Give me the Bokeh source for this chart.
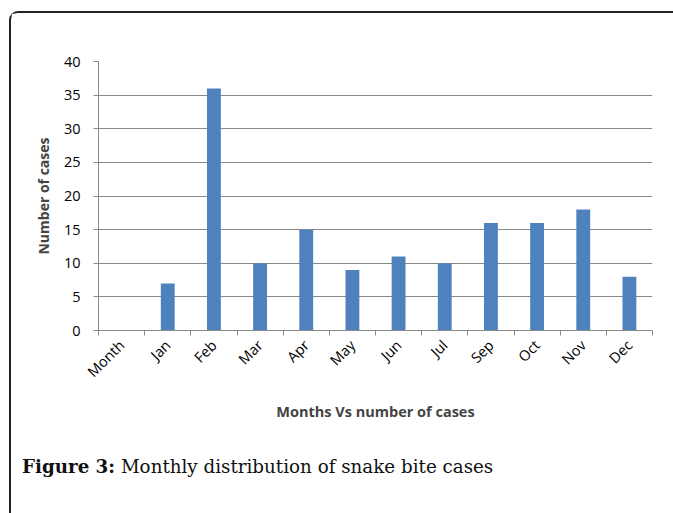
import math
from bokeh.plotting import figure
from bokeh.models import FixedTicker, Range1d, Div
from bokeh.layouts import column
from bokeh.embed import file_html
from bokeh.resources import INLINE

months = ["Month", "Jan", "Feb", "Mar", "Apr", "May", "Jun", "Jul", "Sep", "Oct", "Nov", "Dec"]
cases = [0, 7, 36, 10, 15, 9, 11, 10, 16, 16, 18, 8]
y_ticks = [0, 5, 10, 15, 20, 25, 30, 35, 40]
caption_label = "Figure 3:"
caption_text = "Monthly distribution of snake bite cases"

x_pos = [i + 0.5 for i in range(len(months))]
bounds = list(range(len(months) + 1))

OX, OY = 11, 13  # offset of content inside page due to bordered box
FIG_W, FIG_H = 662, 442

p = figure(width=FIG_W, height=FIG_H, output_backend="svg", toolbar_location=None,
           x_range=Range1d(0, len(months)), y_range=Range1d(0, 40),
           min_border_left=98 - OX, min_border_right=FIG_W - (652 - OX), min_border_top=61 - OY,
           min_border_bottom=FIG_H - (330 - OY))
p.outline_line_color = None
p.background_fill_color = "white"
p.border_fill_color = "white"

p.vbar(x=x_pos, top=cases, width=0.3, fill_color="#4F81BD", line_color=None)

gray = "#888888"
font = "Open Sans"

# y axis
p.yaxis.ticker = FixedTicker(ticks=y_ticks)
p.yaxis.axis_line_color = gray
p.yaxis.major_tick_line_color = gray
p.yaxis.major_tick_out = 5
p.yaxis.major_tick_in = 0
p.yaxis.minor_tick_line_color = None
p.yaxis.major_label_text_font = font
p.yaxis.major_label_text_font_size = "14.5px"
p.yaxis.major_label_text_color = "black"
p.yaxis.major_label_standoff = 13
p.yaxis.axis_label = "Number of cases"
p.yaxis.axis_label_text_font = font
p.yaxis.axis_label_text_font_style = "bold"
p.yaxis.axis_label_text_font_size = "14px"
p.yaxis.axis_label_standoff = 8

# x axis
p.xaxis.ticker = FixedTicker(ticks=x_pos, minor_ticks=bounds)
p.xaxis.major_label_overrides = {x: m for x, m in zip(x_pos, months)}
p.xaxis.axis_line_color = gray
p.xaxis.major_tick_line_color = None
p.xaxis.minor_tick_line_color = gray
p.xaxis.minor_tick_out = 5
p.xaxis.minor_tick_in = 0
p.xaxis.major_label_orientation = math.pi / 4
p.xaxis.major_label_text_font = font
p.xaxis.major_label_text_font_size = "14.5px"
p.xaxis.major_label_text_color = "black"
p.xaxis.major_label_standoff = 6
p.xaxis.axis_label = "Months Vs number of cases"
p.xaxis.axis_label_text_font = font
p.xaxis.axis_label_text_font_style = "bold"
p.xaxis.axis_label_text_font_size = "14.5px"
p.xaxis.axis_label_standoff = 11

p.xgrid.grid_line_color = None
p.ygrid.ticker = FixedTicker(ticks=y_ticks)
p.ygrid.grid_line_color = gray
p.ygrid.grid_line_width = 1

cap = Div(text=f"<b>{caption_label}</b> {caption_text}", width=FIG_W, height=513 - OY - FIG_H,
          styles={"font-family": "'DejaVu Serif', serif", "font-size": "18.3px", "color": "#111111",
                  "padding-left": f"{22 - OX}px", "padding-top": "1px", "line-height": "1.2", "margin": "0"})

layout = column(p, cap, spacing=0,
                styles={"margin-left": "9px", "margin-top": "11px",
                        "border-top": "2px solid #222222", "border-left": "2px solid #222222",
                        "border-top-left-radius": "9px"})

open("out.html", "w").write(file_html(layout, INLINE))
